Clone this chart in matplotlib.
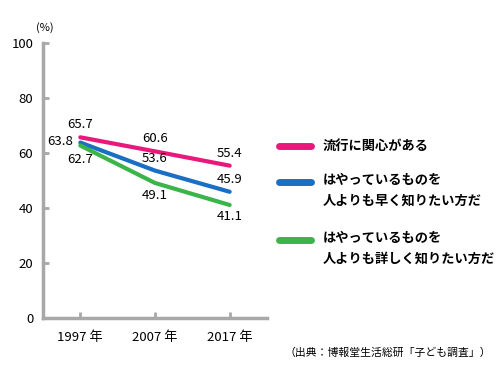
import matplotlib.pyplot as plt

plt.rcParams['font.family'] = ['Noto Sans CJK JP', 'DejaVu Sans']

years = ['1997 年', '2007 年', '2017 年']
trend_interest = [65.7, 60.6, 55.4]
know_earlier = [63.8, 53.6, 45.9]
know_detail = [62.7, 49.1, 41.1]

series_names = ['流行に関心がある',
                'はやっているものを\n人よりも早く知りたい方だ',
                'はやっているものを\n人よりも詳しく知りたい方だ']
colors = ['#e8197a', '#1b6fc2', '#3bb54a']
axis_gray = '#a8a8a8'

fig = plt.figure(figsize=(5, 3.8), dpi=100)
ax = fig.add_axes([0.086, 0.163, 0.448, 0.724])

x = range(len(years))
for vals, c in zip([trend_interest, know_earlier, know_detail], colors):
    ax.plot(x, vals, color=c, linewidth=3, solid_capstyle='round')

# value labels
lab_fs = 9.5
ax.text(0, trend_interest[0] + 4.5, '65.7', ha='center', va='center', fontsize=lab_fs)
ax.text(-0.27, know_earlier[0] + 0.5, '63.8', ha='center', va='center', fontsize=lab_fs)
ax.text(0, know_detail[0] - 5.2, '62.7', ha='center', va='center', fontsize=lab_fs)
ax.text(1, trend_interest[1] + 4.8, '60.6', ha='center', va='center', fontsize=lab_fs)
ax.text(1, know_earlier[1] + 4.4, '53.6', ha='center', va='center', fontsize=lab_fs)
ax.text(1, know_detail[1] - 4.5, '49.1', ha='center', va='center', fontsize=lab_fs)
ax.text(2, trend_interest[2] + 4.3, '55.4', ha='center', va='center', fontsize=lab_fs)
ax.text(2, know_earlier[2] + 4.3, '45.9', ha='center', va='center', fontsize=lab_fs)
ax.text(2, know_detail[2] - 4.3, '41.1', ha='center', va='center', fontsize=lab_fs)

ax.set_xlim(-0.5, 2.5)
ax.set_ylim(0, 100)
ax.set_yticks([0, 20, 40, 60, 80, 100])
ax.set_xticks(list(x))
ax.set_xticklabels(years)

for s in ['top', 'right']:
    ax.spines[s].set_visible(False)
for s in ['left', 'bottom']:
    ax.spines[s].set_color(axis_gray)
    ax.spines[s].set_linewidth(2.5)

ax.tick_params(axis='both', direction='in', color=axis_gray, width=2, length=4,
               labelsize=9.5)
ax.tick_params(axis='y', pad=7)
ax.tick_params(axis='x', pad=9)

fig.text(0.09, 0.928, '(%)', ha='center', va='center', fontsize=8)

# legend drawn by hand
leg_y = [0.616, 0.521, 0.368]
for ly, c, name in zip(leg_y, colors, series_names):
    fig.add_artist(plt.Line2D([0.558, 0.622], [ly, ly], color=c, linewidth=5,
                              solid_capstyle='round'))
    if '\n' in name:
        fig.text(0.645, ly + 0.025, name, ha='left', va='top', fontsize=9.5,
                 fontweight='bold', linespacing=1.65)
    else:
        fig.text(0.645, ly, name, ha='left', va='center', fontsize=9.5,
                 fontweight='bold')

fig.text(0.982, 0.073, '（出典：博報堂生活総研「子ども調査」）', ha='right', va='center',
         fontsize=7.8)

fig.savefig('out.png', dpi=100)
